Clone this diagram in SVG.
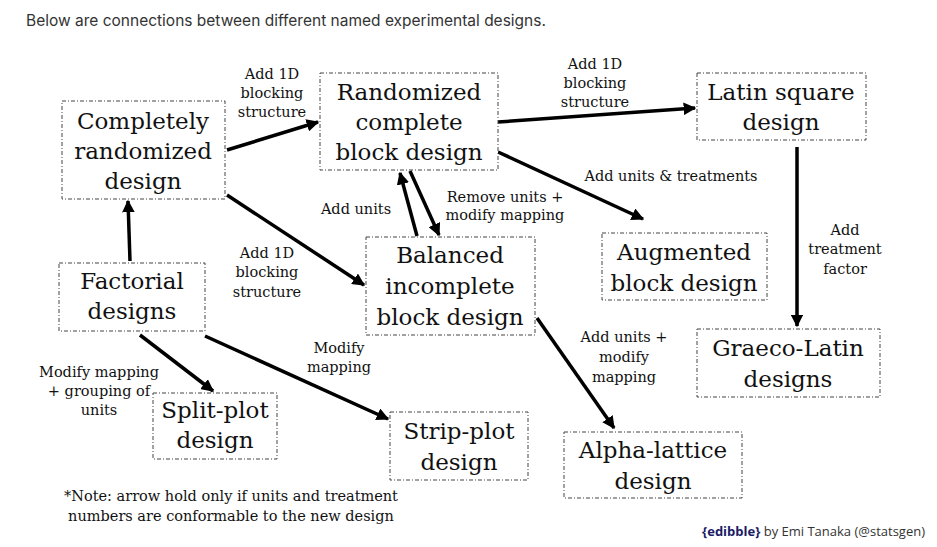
<svg xmlns="http://www.w3.org/2000/svg" width="937" height="547" viewBox="0 0 937 547">
<defs>
<marker id="ah" viewBox="0 0 10 10" refX="9" refY="5" markerWidth="3.6" markerHeight="3.6" orient="auto" markerUnits="strokeWidth"><path d="M0,0 L10,5 L0,10 z" fill="#000"/></marker>
<style>
.box{fill:#fff;stroke:#444;stroke-width:1;stroke-dasharray:4 2 1 2}
.n{font-family:"DejaVu Serif",serif;font-size:23px;fill:#111;text-anchor:middle}
.l{font-family:"DejaVu Serif",serif;font-size:14.5px;fill:#111;text-anchor:middle}
.a{stroke:#000;stroke-width:3.5;fill:none;marker-end:url(#ah)}
</style>
</defs>
<rect width="937" height="547" fill="#fff"/>
<text x="26" y="26" font-family="Inter,'Liberation Sans',sans-serif" font-size="15.5" fill="#333">Below are connections between different named experimental designs.</text>
<g id="connectors">
<line class="a" x1="227" y1="150" x2="318" y2="122"/>
<line class="a" x1="498" y1="122" x2="695" y2="108"/>
<line class="a" x1="498" y1="152" x2="643" y2="219"/>
<line class="a" x1="227" y1="195" x2="364" y2="285"/>
<line class="a" x1="130" y1="261" x2="128" y2="201"/>
<line class="a" x1="410" y1="171" x2="439" y2="235"/>
<line class="a" x1="417" y1="236" x2="400" y2="173"/>
<line class="a" x1="797" y1="147" x2="797" y2="326"/>
<line class="a" x1="537" y1="318" x2="614" y2="428"/>
<line class="a" x1="140" y1="335" x2="213" y2="391"/>
<line class="a" x1="205" y1="336" x2="388" y2="419"/>
</g>
<g id="labels">
<text class="l" x="272" y="79">Add 1D</text><text class="l" x="272" y="98">blocking</text><text class="l" x="272" y="117">structure</text>
<text class="l" x="595" y="69">Add 1D</text><text class="l" x="595" y="88">blocking</text><text class="l" x="595" y="107">structure</text>
<text class="l" x="671" y="181">Add units &amp; treatments</text>
<text class="l" x="356" y="214">Add units</text>
<text class="l" x="505" y="202">Remove units +</text><text class="l" x="505" y="220">modify mapping</text>
<text class="l" x="267" y="258">Add 1D</text><text class="l" x="267" y="277">blocking</text><text class="l" x="267" y="297">structure</text>
<text class="l" x="845" y="235">Add</text><text class="l" x="845" y="254">treatment</text><text class="l" x="845" y="274">factor</text>
<text class="l" x="624" y="342">Add units +</text><text class="l" x="624" y="362">modify</text><text class="l" x="624" y="382">mapping</text>
<text class="l" x="339" y="353">Modify</text><text class="l" x="339" y="372">mapping</text>
<text class="l" x="99" y="377">Modify mapping</text><text class="l" x="99" y="396">+ grouping of</text><text class="l" x="99" y="415">units</text>
<text class="l" x="231" y="501">*Note: arrow hold only if units and treatment</text>
<text class="l" x="231" y="521">numbers are conformable to the new design</text>
</g>
<g id="crd"><rect class="box" x="62" y="101" width="163" height="98"/><text class="n" x="143" y="129">Completely</text><text class="n" x="143" y="159">randomized</text><text class="n" x="143" y="189">design</text></g>
<g id="rcbd"><rect class="box" x="320" y="73" width="178" height="97"/><text class="n" x="409" y="100">Randomized</text><text class="n" x="409" y="130">complete</text><text class="n" x="409" y="160">block design</text></g>
<g id="latin"><rect class="box" x="697" y="73" width="169" height="67"/><text class="n" x="781" y="100">Latin square</text><text class="n" x="781" y="130">design</text></g>
<g id="factorial"><rect class="box" x="59" y="263" width="146" height="68"/><text class="n" x="132" y="289">Factorial</text><text class="n" x="132" y="319">designs</text></g>
<g id="bibd"><rect class="box" x="366" y="237" width="169" height="98"/><text class="n" x="450" y="263">Balanced</text><text class="n" x="450" y="294">incomplete</text><text class="n" x="450" y="325">block design</text></g>
<g id="augmented"><rect class="box" x="602" y="233" width="165" height="67"/><text class="n" x="684" y="260">Augmented</text><text class="n" x="684" y="291">block design</text></g>
<g id="graeco"><rect class="box" x="697" y="329" width="183" height="68"/><text class="n" x="788" y="356">Graeco-Latin</text><text class="n" x="788" y="387">designs</text></g>
<g id="split"><rect class="box" x="153" y="393" width="124" height="66"/><text class="n" x="215" y="418">Split-plot</text><text class="n" x="215" y="448">design</text></g>
<g id="strip"><rect class="box" x="390" y="412" width="138" height="68"/><text class="n" x="459" y="439">Strip-plot</text><text class="n" x="459" y="470">design</text></g>
<g id="alpha"><rect class="box" x="564" y="432" width="178" height="66"/><text class="n" x="653" y="458">Alpha-lattice</text><text class="n" x="653" y="489">design</text></g>
<text x="925" y="536" text-anchor="end" font-family="'Open Sans','Liberation Sans',sans-serif" font-size="13" fill="#333"><tspan font-weight="bold" fill="#1a1a66">{edibble}</tspan> by Emi Tanaka (@statsgen)</text>
</svg>
